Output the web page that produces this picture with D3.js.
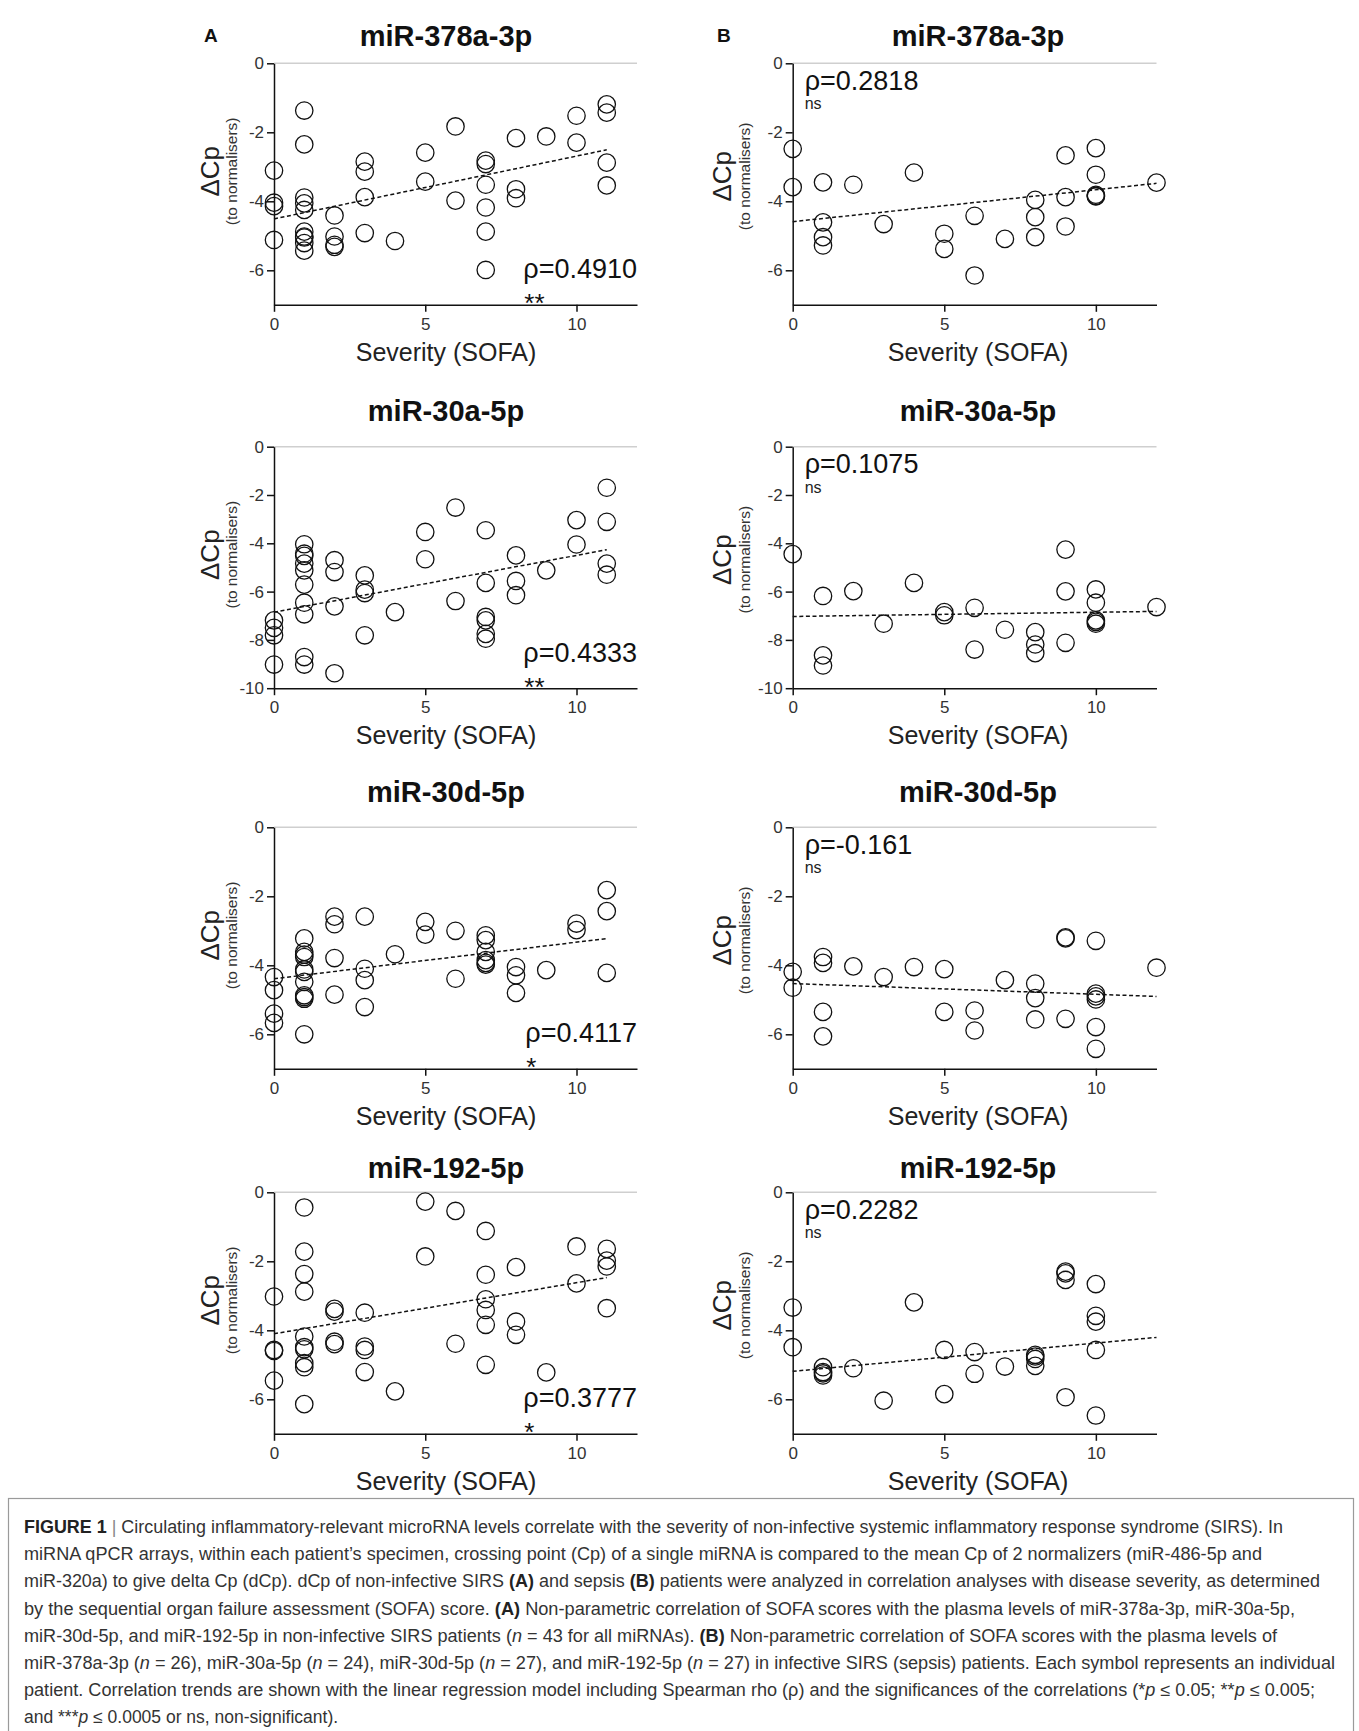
<!DOCTYPE html>
<html>
<head>
<meta charset="utf-8">
<script src="https://cdn.jsdelivr.net/npm/d3@7"></script>
<style>
  html, body { margin: 0; padding: 0; background: #fff; }
  svg { display: block; font-family: "Liberation Sans", Arial, Helvetica, sans-serif; }
</style>
</head>
<body>
<svg id="fig" width="1359" height="1731"></svg>
<script>
// ---------------- DATA ----------------
const mirnaTitles = ["miR-378a-3p", "miR-30a-5p", "miR-30d-5p", "miR-192-5p"];
const columnLetters = ["A", "B"];
const xTickValues = [0, 5, 10];
const yMinByRow = [-7, -10, -7, -7];
const yTicksByRow = [[0, -2, -4, -6], [0, -2, -4, -6, -8, -10], [0, -2, -4, -6], [0, -2, -4, -6]];

const rhoA = ["ρ=0.4910", "ρ=0.4333", "ρ=0.4117", "ρ=0.3777"];
const sigA = ["**", "**", "*", "*"];
const rhoB = ["ρ=0.2818", "ρ=0.1075", "ρ=-0.161", "ρ=0.2282"];
const sigB = ["ns", "ns", "ns", "ns"];

// regression trends: intercept, slope, x end
const trendInterceptA = [-4.51, -6.85, -4.39, -4.10];
const trendSlopeA     = [0.182, 0.235, 0.106, 0.148];
const trendEndA       = [11, 11, 11, 11];
const trendInterceptB = [-4.59, -7.03, -4.53, -5.19];
const trendSlopeB     = [0.0925, 0.0175, -0.031, 0.082];
const trendEndB       = [12, 12, 12, 12];

// A: non-infective SIRS
const sofaA378 = [0,0,0,0, 1,1,1,1,1,1,1,1,1,1, 2,2,2,2, 3,3,3,3, 4, 5,5, 6,6, 7,7,7,7,7,7, 8,8,8, 9, 10,10, 11,11,11,11];
const dcpA378  = [-3.11,-4.04,-4.14,-5.12, -1.37,-2.35,-3.89,-4.06,-4.25,-4.88,-5.02,-5.05,-5.21,-5.43, -4.41,-5.02,-5.26,-5.32, -2.85,-3.14,-3.88,-4.92, -5.15, -2.59,-3.43, -1.83,-3.98, -2.82,-2.92,-3.52,-4.18,-4.88,-5.99, -2.17,-3.65,-3.91, -2.12, -1.52,-2.30, -1.19,-1.43,-2.88,-3.54];

const sofaA30a = [0,0,0,0, 1,1,1,1,1,1,1,1,1,1, 2,2,2,2, 3,3,3,3, 4, 5,5, 6,6, 7,7,7,7,7,7, 8,8,8, 9, 10,10, 11,11,11,11];
const dcpA30a  = [-7.19,-7.50,-7.81,-9.02, -4.04,-4.43,-4.52,-4.84,-5.12,-5.71,-6.46,-6.94,-8.71,-9.02, -4.70,-5.19,-6.61,-9.38, -5.33,-5.92,-6.06,-7.81, -6.85, -3.53,-4.66, -2.52,-6.39, -3.46,-5.64,-7.05,-7.19,-7.75,-7.95, -4.50,-5.56,-6.15, -5.12, -3.04,-4.05, -1.70,-3.11,-4.84,-5.30];

const sofaA30d = [0,0,0,0, 1,1,1,1,1,1,1,1,1,1,1, 2,2,2,2, 3,3,3,3, 4, 5,5, 6,6, 7,7,7,7,7,7, 8,8,8, 9, 10,10, 11,11,11];
const dcpA30d  = [-4.34,-4.72,-5.40,-5.67, -3.22,-3.61,-3.69,-3.76,-4.12,-4.19,-4.48,-4.87,-4.92,-4.97,-6.00, -2.59,-2.81,-3.79,-4.85, -2.59,-4.10,-4.43,-5.21, -3.68, -2.74,-3.11, -3.00,-4.39, -3.13,-3.27,-3.61,-3.85,-3.93,-3.98, -4.05,-4.29,-4.80, -4.14, -2.79,-2.98, -1.82,-2.43,-4.22];

const sofaA192 = [0,0,0,0, 1,1,1,1,1,1,1,1,1,1, 2,2,2,2, 3,3,3,3, 4, 5,5, 6,6, 7,7,7,7,7,7, 8,8,8, 9, 10,10, 11,11,11,11];
const dcpA192  = [-3.02,-4.57,-4.60,-5.46, -0.44,-1.72,-2.37,-2.88,-4.18,-4.49,-4.55,-4.95,-5.07,-6.14, -3.38,-3.46,-4.33,-4.40, -3.49,-4.47,-4.57,-5.21, -5.77, -0.27,-1.86, -0.54,-4.39, -1.12,-2.39,-3.10,-3.41,-3.84,-5.00, -2.17,-3.75,-4.13, -5.22, -1.57,-2.64, -1.64,-1.98,-2.15,-3.36];

// B: sepsis
const sofaB378 = [0,0, 1,1,1,1, 2, 3, 4, 5,5, 6,6, 7, 8,8,8, 9,9,9, 10,10,10,10,10, 12];
const dcpB378  = [-2.48,-3.59, -3.45,-4.61,-5.04,-5.28, -3.52, -4.66, -3.17, -4.94,-5.38, -4.42,-6.15, -5.09, -3.96,-4.46,-5.04, -2.67,-3.88,-4.73, -2.46,-3.23,-3.81,-3.84,-3.86, -3.46];

const sofaB30a = [0, 1,1,1, 2, 3, 4, 5,5, 6,6, 7, 8,8,8, 9,9,9, 10,10,10,10,10, 12];
const dcpB30a  = [-4.45, -6.18,-8.64,-9.06, -5.98, -7.33, -5.64, -6.85,-6.98, -6.67,-8.40, -7.58, -7.68,-8.19,-8.55, -4.26,-5.99,-8.12, -5.91,-6.46,-7.19,-7.25,-7.33, -6.64];

const sofaB30d = [0,0, 1,1,1,1, 2, 3, 4, 5,5, 6,6, 7, 8,8,8, 9,9,9, 10,10,10,10,10,10, 12];
const dcpB30d  = [-4.19,-4.65, -3.76,-3.93,-5.35,-6.06, -4.03, -4.34, -4.05, -4.11,-5.35, -5.31,-5.89, -4.43, -4.53,-4.95,-5.57, -3.19,-3.22,-5.55, -3.29,-4.82,-4.90,-4.99,-5.79,-6.42, -4.07];

const sofaB192 = [0,0, 1,1,1,1, 2, 3, 4, 5,5, 6,6, 7, 8,8,8,8, 9,9,9,9, 10,10,10,10,10];
const dcpB192  = [-3.34,-4.49, -5.07,-5.21,-5.25,-5.31, -5.10, -6.04, -3.19, -4.57,-5.85, -4.63,-5.26, -5.05, -4.71,-4.76,-4.83,-5.03, -2.30,-2.35,-2.54,-5.94, -2.66,-3.58,-3.75,-4.57,-6.47];

const captionLines = [
  [["b","FIGURE 1"],["g"," | "],["r","Circulating inflammatory-relevant microRNA levels correlate with the severity of non-infective systemic inflammatory response syndrome (SIRS). In"]],
  [["r","miRNA qPCR arrays, within each patient’s specimen, crossing point (Cp) of a single miRNA is compared to the mean Cp of 2 normalizers (miR-486-5p and"]],
  [["r","miR-320a) to give delta Cp (dCp). dCp of non-infective SIRS "],["b","(A)"],["r"," and sepsis "],["b","(B)"],["r"," patients were analyzed in correlation analyses with disease severity, as determined"]],
  [["r","by the sequential organ failure assessment (SOFA) score. "],["b","(A)"],["r"," Non-parametric correlation of SOFA scores with the plasma levels of miR-378a-3p, miR-30a-5p,"]],
  [["r","miR-30d-5p, and miR-192-5p in non-infective SIRS patients ("],["i","n"],["r"," = 43 for all miRNAs). "],["b","(B)"],["r"," Non-parametric correlation of SOFA scores with the plasma levels of"]],
  [["r","miR-378a-3p ("],["i","n"],["r"," = 26), miR-30a-5p ("],["i","n"],["r"," = 24), miR-30d-5p ("],["i","n"],["r"," = 27), and miR-192-5p ("],["i","n"],["r"," = 27) in infective SIRS (sepsis) patients. Each symbol represents an individual"]],
  [["r","patient. Correlation trends are shown with the linear regression model including Spearman rho (ρ) and the significances of the correlations (*"],["i","p"],["r"," ≤ 0.05; **"],["i","p"],["r"," ≤ 0.005;"]],
  [["r","and ***"],["i","p"],["r"," ≤ 0.0005 or ns, non-significant)."]]
];
const captionLineEnds = [1283, 1262, 1320, 1295, 1277, 1335, 1315, null];

// ---------------- LAYOUT ----------------
const svg = d3.select("#fig");
svg.append("rect").attr("width", 1359).attr("height", 1731).attr("fill", "#fff");

const rowTops = [63.3, 446.7, 827.3, 1192.3];
const plotH = 241.5;
const titleBaselines = [45.7, 421, 801.7, 1178];
const cols = [
  { x0: 274, x1: 637, titleX: 446, letterX: 204, yLabX: 219, yParX: 237, yLabDy: 108 },
  { x0: 792.7, x1: 1156.5, titleX: 978, letterX: 717, yLabX: 731, yParX: 750, yLabDy: 113 }
];

const panelsA = [
  [sofaA378, dcpA378], [sofaA30a, dcpA30a], [sofaA30d, dcpA30d], [sofaA192, dcpA192]
];
const panelsB = [
  [sofaB378, dcpB378], [sofaB30a, dcpB30a], [sofaB30d, dcpB30d], [sofaB192, dcpB192]
];

function drawPanel(ci, ri) {
  const c = cols[ci];
  const top = rowTops[ri], bottom = top + plotH;
  const [xs, ys] = ci === 0 ? panelsA[ri] : panelsB[ri];
  const x = d3.scaleLinear().domain([0, 12]).range([c.x0, c.x1]);
  const y = d3.scaleLinear().domain([yMinByRow[ri], 0]).range([bottom, top]);
  const g = svg.append("g");

  // title
  g.append("text").attr("x", c.titleX).attr("y", titleBaselines[ri])
    .attr("text-anchor", "middle").attr("font-weight", "bold").attr("font-size", 29)
    .attr("fill", "#111").text(mirnaTitles[ri]);
  if (ri === 0) {
    g.append("text").attr("x", c.letterX).attr("y", 42).attr("font-weight", "bold")
      .attr("font-size", 19).attr("fill", "#111").text(columnLetters[ci]);
  }

  // light line at y = 0
  g.append("line").attr("x1", x(0)).attr("x2", x(12)).attr("y1", y(0)).attr("y2", y(0))
    .attr("stroke", "#cfcfcf").attr("stroke-width", 1.5);

  const fmt = d => String(d);
  // axes
  const xa = g.append("g").attr("transform", `translate(0,${bottom})`)
    .call(d3.axisBottom(x).tickValues(xTickValues).tickSize(7).tickSizeOuter(0).tickPadding(6).tickFormat(fmt));
  const ya = g.append("g").attr("transform", `translate(${c.x0},0)`)
    .call(d3.axisLeft(y).tickValues(yTicksByRow[ri]).tickSize(7).tickSizeOuter(0).tickPadding(3).tickFormat(fmt));
  [xa, ya].forEach(a => {
    a.attr("font-family", null).attr("font-size", 17);
    a.selectAll("path, line").attr("stroke", "#111").attr("stroke-width", 1.5);
    a.selectAll("text").attr("fill", "#333")
      .style("font-size", "17px").style("font-family", '"Liberation Sans", Arial, sans-serif');
  });

  // axis labels
  g.append("text").attr("x", c.titleX).attr("y", bottom + 56).attr("text-anchor", "middle")
    .attr("font-size", 25).attr("fill", "#222").text("Severity (SOFA)");
  const cy = top + c.yLabDy;
  g.append("text").attr("transform", `translate(${c.yLabX},${cy}) rotate(-90)`)
    .attr("text-anchor", "middle").attr("font-size", 26).attr("fill", "#222").text("ΔCp");
  g.append("text").attr("transform", `translate(${c.yParX},${cy}) rotate(-90)`)
    .attr("text-anchor", "middle").attr("font-size", 15.5).attr("fill", "#333").text("(to normalisers)");

  // trend line
  const b0 = ci === 0 ? trendInterceptA[ri] : trendInterceptB[ri];
  const b1 = ci === 0 ? trendSlopeA[ri] : trendSlopeB[ri];
  const xe = ci === 0 ? trendEndA[ri] : trendEndB[ri];
  g.append("line").attr("x1", x(0)).attr("y1", y(b0)).attr("x2", x(xe)).attr("y2", y(b0 + b1 * xe))
    .attr("stroke", "#111").attr("stroke-width", 1.5).attr("stroke-dasharray", "4,2.6");

  // points
  g.selectAll("circle.pt").data(xs.map((v, i) => [v, ys[i]])).join("circle")
    .attr("class", "pt").attr("cx", d => x(d[0])).attr("cy", d => y(d[1])).attr("r", 8.7)
    .attr("fill", "none").attr("stroke", "#111").attr("stroke-width", 1.3);

  // rho and significance
  if (ci === 0) {
    const t = g.append("text").attr("x", c.x1).attr("y", top + 215).attr("text-anchor", "end")
      .attr("font-size", 27).attr("fill", "#111").text(rhoA[ri]);
    const bb = t.node().getBBox();
    g.append("text").attr("x", bb.x + 1).attr("y", top + 249).attr("font-size", 26)
      .attr("fill", "#111").text(sigA[ri]);
  } else {
    g.append("text").attr("x", c.x0 + 12).attr("y", top + 26.5)
      .attr("font-size", 27).attr("fill", "#111").text(rhoB[ri]);
    g.append("text").attr("x", c.x0 + 12).attr("y", top + 46)
      .attr("font-size", 16).attr("fill", "#222").text(sigB[ri]);
  }
}

for (let ri = 0; ri < 4; ri++) { drawPanel(0, ri); drawPanel(1, ri); }

// ---------------- CAPTION ----------------
svg.append("rect").attr("x", 8.5).attr("y", 1498.5).attr("width", 1345).attr("height", 240)
  .attr("fill", "none").attr("stroke", "#9a9a9a").attr("stroke-width", 1.2);

const capX = 24;
const cap = svg.append("g").attr("font-size", 17.5).attr("fill", "#333");
captionLines.forEach((segs, li) => {
  const t = cap.append("text").attr("x", capX).attr("y", 1533 + li * 27.2);
  segs.forEach(([k, s]) => {
    const ts = t.append("tspan").text(s);
    if (k === "b") ts.attr("font-weight", "bold").attr("fill", "#222");
    if (k === "i") ts.attr("font-style", "italic");
    if (k === "g") ts.attr("fill", "#888");
  });
  const end = captionLineEnds[li];
  if (end) {
    t.attr("textLength", end - capX).attr("lengthAdjust", "spacingAndGlyphs");
  }
});
</script>
</body>
</html>
